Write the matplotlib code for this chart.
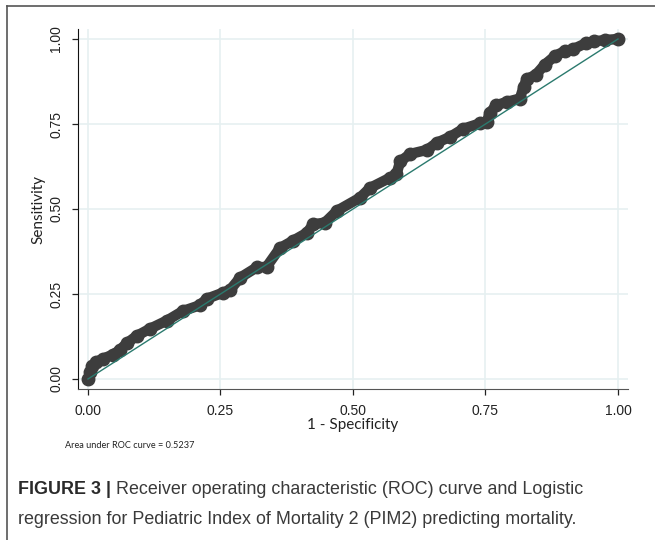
import matplotlib
matplotlib.use("Agg")
import matplotlib.pyplot as plt
from matplotlib.lines import Line2D

# ROC points
fpr = [0.0, 0.004, 0.008, 0.015, 0.029, 0.047, 0.06, 0.073, 0.092, 0.117,
       0.149, 0.179, 0.211, 0.224, 0.255, 0.268, 0.287, 0.318, 0.337, 0.362,
       0.387, 0.413, 0.425, 0.447, 0.47, 0.513, 0.532, 0.57, 0.582, 0.589,
       0.608, 0.64, 0.658, 0.683, 0.708, 0.74, 0.752, 0.758, 0.77, 0.79,
       0.815, 0.822, 0.828, 0.845, 0.862, 0.881, 0.9, 0.915, 0.94, 0.955,
       0.975, 1.0]
tpr = [0.0, 0.02, 0.038, 0.05, 0.06, 0.072, 0.085, 0.105, 0.127, 0.148,
       0.172, 0.2, 0.217, 0.236, 0.254, 0.262, 0.298, 0.328, 0.33, 0.385,
       0.407, 0.43, 0.455, 0.46, 0.495, 0.533, 0.562, 0.592, 0.602, 0.64,
       0.662, 0.674, 0.695, 0.712, 0.736, 0.752, 0.755, 0.782, 0.805, 0.815,
       0.825, 0.86, 0.882, 0.895, 0.925, 0.95, 0.965, 0.97, 0.988, 0.993,
       0.997, 1.0]
ref_line = [0.0, 1.0]
ticks = [0.0, 0.25, 0.5, 0.75, 1.0]
tick_labels = ["0.00", "0.25", "0.50", "0.75", "1.00"]

W, H = 655, 540
fig = plt.figure(figsize=(W / 100, H / 100), dpi=100)
ax = fig.add_axes([78 / W, (H - 389) / H, 550 / W, 360 / H])

ax.plot(fpr, tpr, color="#3d3d3d", lw=7.5, marker="o", markersize=9,
        solid_capstyle="round", solid_joinstyle="round", zorder=3)
ax.plot(ref_line, ref_line, color="#2b7a6e", lw=1.0, zorder=4)

ax.set_xlim(-10 / 530, 1 + 10 / 530)
ax.set_ylim(-10 / 340, 1 + 10 / 340)
ax.set_xticks(ticks)
ax.set_xticklabels(tick_labels)
ax.set_yticks(ticks)
ax.set_yticklabels(tick_labels, rotation=90, va="center")
ax.grid(True, color="#e6f0f1", lw=1.2, zorder=0)
ax.set_axisbelow(True)
for s in ["top", "right"]:
    ax.spines[s].set_visible(False)
ax.spines["left"].set_color("#111111")
ax.spines["bottom"].set_color("#555555")
ax.tick_params(length=4.5, width=0.9, colors="#222222", labelsize=10, pad=6)
for lab in ax.get_xticklabels() + ax.get_yticklabels():
    lab.set_family("Liberation Sans")

ax.set_xlabel("1 - Specificity", family="Lato", fontsize=11, color="#222222", labelpad=0)
ax.set_ylabel("Sensitivity", family="Lato", fontsize=11, color="#222222", labelpad=3)

fig.text(65 / W, 1 - 446 / H, "Area under ROC curve = 0.5237", family="Lato",
         fontsize=6.6, color="#222222", va="center")

# caption
cap_color = "#3a3a3a"
t1 = fig.text(18 / W, 1 - 490 / H, "FIGURE 3 |", family="Liberation Sans",
              fontweight="bold", fontsize=12.9, color="#2a2a2a", va="center")
fig.canvas.draw()
bb = t1.get_window_extent()
fig.text((bb.x1 + 5) / W, 1 - 490 / H,
         "Receiver operating characteristic (ROC) curve and Logistic",
         family="Liberation Sans", fontsize=12.9, color=cap_color, va="center")
fig.text(18 / W, 1 - 520 / H,
         "regression for Pediatric Index of Mortality 2 (PIM2) predicting mortality.",
         family="Liberation Sans", fontsize=12.9, color=cap_color, va="center")

# frame lines at left and top
fig.add_artist(Line2D([7 / W, 7 / W], [0, 1 - 6 / H], color="#555555", lw=1.2))
fig.add_artist(Line2D([7 / W, 1], [1 - 6 / H, 1 - 6 / H], color="#555555", lw=1.2))

fig.savefig("out.png", dpi=100)
